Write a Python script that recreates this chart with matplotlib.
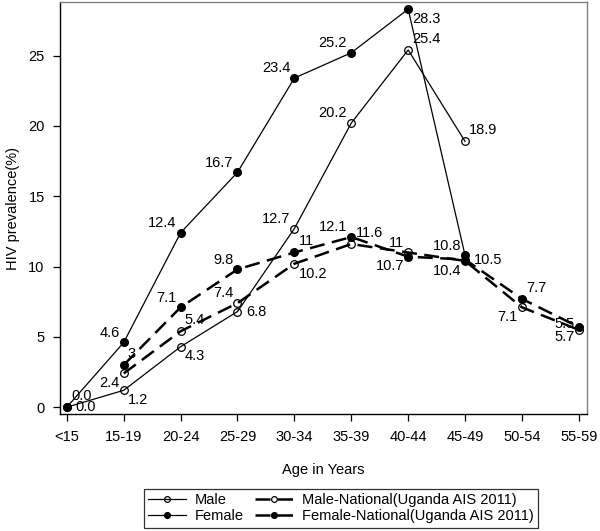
import matplotlib
matplotlib.use('Agg')
import matplotlib.pyplot as plt
import numpy as np

plt.rcParams['font.family'] = ['Liberation Sans', 'DejaVu Sans']

ages = ['<15', '15-19', '20-24', '25-29', '30-34', '35-39', '40-44', '45-49', '50-54', '55-59']

# study data (up to 45-49)
male = [0.0, 1.2, 4.3, 6.8, 12.7, 20.2, 25.4, 18.9]
female = [0.0, 4.6, 12.4, 16.7, 23.4, 25.2, 28.3, 10.8]
male_lbl = ['0.0', '1.2', '4.3', '6.8', '12.7', '20.2', '25.4', '18.9']
female_lbl = ['0.0', '4.6', '12.4', '16.7', '23.4', '25.2', '28.3', '10.8']

# national data (15-19 .. 55-59)
male_nat = [2.4, 5.4, 7.4, 10.2, 11.6, 11, 10.4, 7.1, 5.5]
female_nat = [3, 7.1, 9.8, 11, 12.1, 10.7, 10.5, 7.7, 5.7]

# label clock positions (style)
male_pos = [2, 4, 4, 3, 10, 10, 2, 2]
female_pos = [3, 10, 10, 10, 10, 10, 4, 10]
male_nat_pos = [8, 2, 10, 4, 2, 10, 8, 8, 9]
female_nat_pos = [2, 10, 10, 2, 10, 8, 3, 2, 8]

clock = {
    2: (3, 3, 'left', 'bottom'),
    3: (6, 0, 'left', 'center'),
    4: (3, -2, 'left', 'top'),
    8: (-3, -2, 'right', 'top'),
    9: (-3, 4, 'right', 'center'),
    10: (-3, 2, 'right', 'bottom'),
}

fig = plt.figure(figsize=(6, 5.31), dpi=100)
ax = fig.add_axes([0.1, 0.2194, 0.878, 0.7766])

x_study = np.arange(len(male))
x_nat = np.arange(1, len(ages))

l1, = ax.plot(x_study, male, '-', color='black', lw=0.9, marker='o', ms=5.5,
              mfc='none', mec='black', mew=0.9)
l2, = ax.plot(x_study, female, '-', color='black', lw=0.9, marker='o', ms=5.5,
              mfc='black', mec='black')
l3, = ax.plot(x_nat, male_nat, color='black', lw=1.8, dashes=(6, 3), marker='o',
              ms=5.5, mfc='none', mec='black', mew=0.9)
l4, = ax.plot(x_nat, female_nat, color='black', lw=1.8, dashes=(6, 3), marker='o',
              ms=5.5, mfc='black', mec='black')


def put_labels(xs, ys, texts, pos):
    for xv, yv, t, p in zip(xs, ys, texts, pos):
        dx, dy, ha, va = clock[p]
        ax.annotate(t, (xv, yv), xytext=(dx, dy), textcoords='offset points',
                    ha=ha, va=va, fontsize=10.5)


put_labels(x_study, male, male_lbl, male_pos)
put_labels(x_study, female, female_lbl, female_pos)
put_labels(x_nat, male_nat, [str(v) for v in male_nat], male_nat_pos)
put_labels(x_nat, female_nat, [str(v) for v in female_nat], female_nat_pos)

ax.set_xlim(-0.12, 9.14)
ax.set_ylim(-0.52, 28.8)
ax.set_xticks(np.arange(len(ages)))
ax.set_xticklabels(ages)
ax.set_yticks([0, 5, 10, 15, 20, 25])
ax.tick_params(labelsize=10.5, direction='out', length=5, width=0.9, pad=6)
ax.set_xlabel('Age in Years', fontsize=10.5, labelpad=14)
ax.set_ylabel('HIV prevalence(%)', fontsize=10.5, labelpad=6)

for s in ['left', 'bottom']:
    ax.spines[s].set_color('black')
    ax.spines[s].set_linewidth(1.0)
for s in ['top', 'right']:
    ax.spines[s].set_color('#808080')
    ax.spines[s].set_linewidth(1.0)

leg = fig.legend([l1, l2, l3, l4],
                 ['Male', 'Female', 'Male-National(Uganda AIS 2011)',
                  'Female-National(Uganda AIS 2011)'],
                 ncol=2, loc='center', bbox_to_anchor=(0.568, 0.043),
                 fontsize=10.5, frameon=True, fancybox=False, handlelength=2.6,
                 columnspacing=0.8, handletextpad=0.6, borderpad=0.3,
                 labelspacing=0.15, markerscale=0.75)
leg.get_frame().set_edgecolor('black')
leg.get_frame().set_linewidth(0.9)

fig.savefig('out.png', dpi=100)
